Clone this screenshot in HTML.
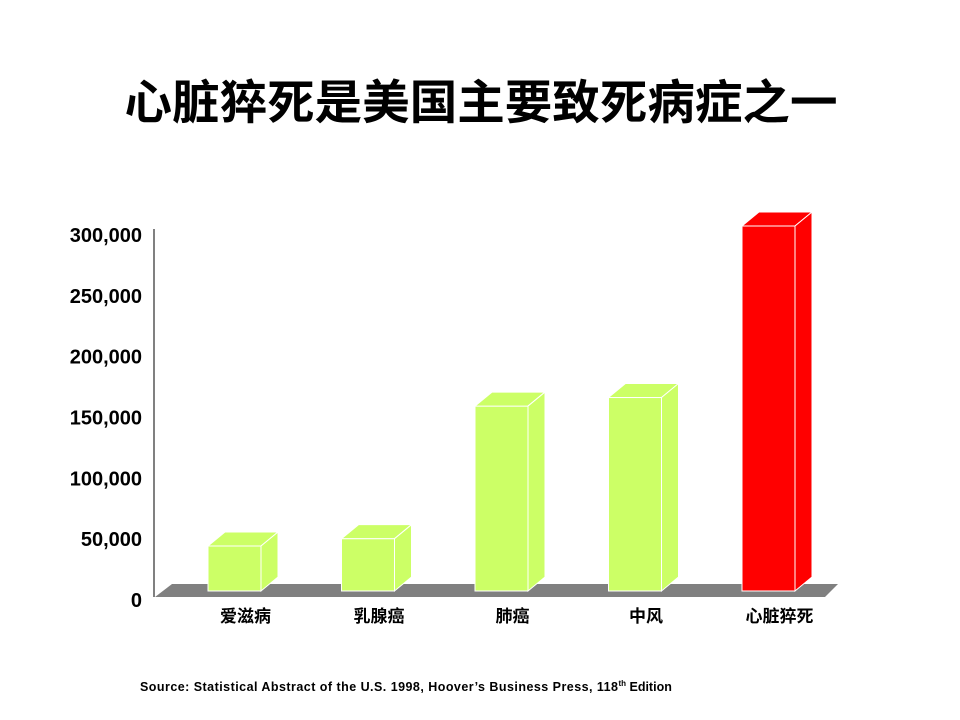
<!DOCTYPE html>
<html><head><meta charset="utf-8"><style>
body{margin:0;width:960px;height:720px;background:#fff;overflow:hidden}
svg{display:block}
text{font-family:"Liberation Sans","Noto Sans CJK SC",sans-serif;font-weight:bold}
</style></head><body>
<svg id="chart" width="960" height="720">
<text x="481" y="119" text-anchor="middle" font-size="47" textLength="713" lengthAdjust="spacingAndGlyphs">心脏猝死是美国主要致死病症之一</text>
<polygon points="155,597 172,584 838,584 825,597" fill="#808080"/>
<line x1="154" y1="229" x2="154" y2="597" stroke="#000" stroke-width="1"/>
<g id="ticks"></g><g id="bars"></g>
<text x="140" y="691" font-size="12.5"><tspan textLength="478" lengthAdjust="spacing">Source:  Statistical Abstract of the U.S. 1998, Hoover’s Business Press, 118</tspan><tspan font-size="8" dy="-5">th</tspan><tspan dy="5"> Edition</tspan></text>
</svg>
<script>
const categories=["爱滋病","乳腺癌","肺癌","中风","心脏猝死"];
const values=[37000,43000,152000,159000,300000];
const colors=["#ccff66","#ccff66","#ccff66","#ccff66","#ff0000"];
const tickValues=[0,50000,100000,150000,200000,250000,300000];
const tickLabels=["0","50,000","100,000","150,000","200,000","250,000","300,000"];
const NS="http://www.w3.org/2000/svg";
const y0=591,pxPer=365/300000;
function y(v){return y0-v*pxPer;}
const barX=[208,341,474,608,742];
function xOf(i){return barX[0]+i*((barX[4]-barX[0])/4);}
const ticks=document.getElementById('ticks');
tickValues.forEach((t,i)=>{
 const tx=document.createElementNS(NS,'text');
 tx.setAttribute('x',142);tx.setAttribute('y',y(t)+16);
 tx.setAttribute('text-anchor','end');tx.setAttribute('font-size','20');
 tx.textContent=tickLabels[i];
 
 
 ticks.appendChild(tx);
});
const bars=document.getElementById('bars');
const w=53,dx=17,dy=14;
categories.forEach((c,i)=>{
 const x=xOf(i),top=y(values[i]);
 const g=document.createElementNS(NS,'g');
 
 
 const col=colors[i];
 g.innerHTML=`<rect x="${x}" y="${top}" width="${w}" height="${y0-top}" fill="${col}" stroke="#fff" stroke-width="1"/>
 <polygon points="${x},${top} ${x+dx},${top-dy} ${x+w+dx},${top-dy} ${x+w},${top}" fill="${col}" stroke="#fff" stroke-width="1"/>
 <polygon points="${x+w},${top} ${x+w+dx},${top-dy} ${x+w+dx},${y0-dy} ${x+w},${y0}" fill="${col}" stroke="#fff" stroke-width="1"/>`;
 bars.appendChild(g);
 const lb=document.createElementNS(NS,'text');
 lb.setAttribute('x',x+w/2+11);lb.setAttribute('y',622);
 lb.setAttribute('text-anchor','middle');lb.setAttribute('font-size','17');
 lb.textContent=c;
 
 
 bars.appendChild(lb);
});
</script>
</body></html>
